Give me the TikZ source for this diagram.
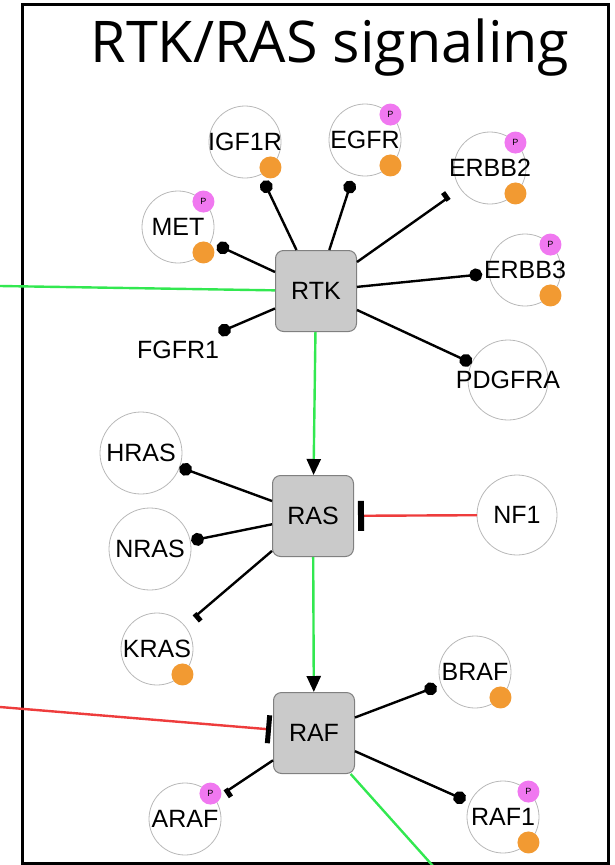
\documentclass[tikz,border=0pt]{standalone}
\usepackage{fontspec}
\setmainfont{Liberation Sans}
\newfontfamily\titlefont{Open Sans}
\usetikzlibrary{arrows.meta,positioning}
\definecolor{actgreen}{RGB}{50,232,80}
\definecolor{inhred}{RGB}{238,60,60}
\definecolor{boxgray}{RGB}{202,202,202}
\definecolor{phospho}{RGB}{240,120,240}
\definecolor{mutorange}{RGB}{242,154,50}
\tikzset{
  hub/.style={draw=black!50, fill=boxgray, rounded corners=8pt, minimum size=81pt, inner sep=0pt, line width=1pt, font=\fontsize{25}{28}\selectfont},
  gene/.style={circle, draw=black!28, line width=0.8pt, minimum size=72pt, inner sep=0pt, outer sep=0pt},
  genetext/.style={font=\fontsize{25}{28}\selectfont, inner sep=0pt},
  pdot/.style={circle, fill=phospho, minimum size=22pt, inner sep=0pt, font=\fontsize{9}{9}\selectfont},
  odot/.style={circle, fill=mutorange, minimum size=22pt, inner sep=0pt},
  link/.style={line width=2.4pt},
  bind/.style={link, -{Circle[length=13pt]}},
  tee/.style={link, -{Bar[width=14pt, line width=5pt, left]}},
  act/.style={line width=2.4pt, color=actgreen},
  inh/.style={line width=2.4pt, color=inhred},
}

\begin{document}
\begin{tikzpicture}[x=1pt, y=-1pt]
  \useasboundingbox (0,0) rectangle (615,865);
  %%%%% FRAME %%%%%
  \draw[line width=3pt] (22,4) rectangle (608,863);
  \node[anchor=base, inner sep=0pt, font=\titlefont\fontsize{57.5}{60}\selectfont] (title) at (330,62) {RTK/RAS signaling};

  %%%%% HUBS %%%%%
  \node[hub] (rtk) at (316,291) {RTK};
  \node[hub] (ras) at (313,516) {RAS};
  \node[hub] (raf) at (314,733) {RAF};

  %%%%% GENES %%%%%
  \node[gene, label={[genetext]center:IGF1R}] (igf1r) at (245,142) {};
  \node[gene, label={[genetext]center:EGFR}] (egfr) at (365,140) {};
  \node[gene, label={[genetext]center:ERBB2}] (erbb2) at (490,168) {};
  \node[gene, label={[genetext]center:ERBB3}] (erbb3) at (525,270) {};
  \node[gene, minimum size=80pt, label={[genetext]center:PDGFRA}] (pdgfra) at (508,380) {};
  \node[gene, label={[genetext]center:MET}] (met) at (178,227) {};
  \node[gene, draw=none, label={[genetext]center:FGFR1}] (fgfr1) at (178,350) {};

  \node[gene, minimum size=82pt, label={[genetext]center:HRAS}] (hras) at (141,453) {};
  \node[gene, minimum size=82pt, label={[genetext]center:NRAS}] (nras) at (150,549) {};
  \node[gene, label={[genetext]center:KRAS}] (kras) at (157,649) {};
  \node[gene, minimum size=80pt, label={[genetext]center:NF1}] (nf1) at (517,515) {};

  \node[gene, label={[genetext]center:BRAF}] (braf) at (475,672) {};
  \node[gene, label={[genetext]center:ARAF}] (araf) at (185,819) {};
  \node[gene, label={[genetext]center:RAF1}] (raf1) at (503,817) {};

  %%%%% MARKS %%%%%
  \node[pdot] (egfr-p) at (egfr.45) {P};
  \node[pdot] (erbb2-p) at (erbb2.45) {P};
  \node[pdot] (erbb3-p) at (erbb3.45) {P};
  \node[pdot] (met-p) at (met.45) {P};
  \node[pdot] (araf-p) at (araf.45) {P};
  \node[pdot] (raf1-p) at (raf1.45) {P};

  \node[odot] (igf1r-o) at (igf1r.-45) {};
  \node[odot] (egfr-o) at (egfr.-45) {};
  \node[odot] (erbb2-o) at (erbb2.-45) {};
  \node[odot] (erbb3-o) at (erbb3.-45) {};
  \node[odot] (met-o) at (met.-45) {};
  \node[odot] (kras-o) at (kras.-45) {};
  \node[odot] (braf-o) at (braf.-45) {};
  \node[odot] (raf1-o) at (raf1.-45) {};

  %%%%% LINKS %%%%%
  \draw[bind, shorten >=7pt] (rtk) -- (igf1r);
  \draw[bind, shorten >=7pt] (rtk) -- (egfr);
  \draw[tee, shorten >=14pt] (rtk) -- (erbb2);
  \draw[bind, shorten >=7pt] (rtk) -- (erbb3);
  \draw[bind, shorten >=0pt] (rtk) -- (pdgfra);
  \draw[bind, shorten >=7pt] (rtk) -- (met);
  \draw[bind, shorten >=8pt] (rtk) -- (fgfr1);

  \draw[bind, shorten >=0pt] (ras) -- (hras);
  \draw[bind, shorten >=1pt] (ras) -- (nras);
  \draw[tee, shorten >=13pt] (ras) -- (kras);

  \draw[bind, shorten >=5pt] (raf) -- (braf);
  \draw[bind, shorten >=5pt] (raf) -- (raf1);
  \draw[tee, shorten >=12pt] (raf) -- (araf);

  %%%%% SIGNAL FLOW %%%%%
  \coordinate (westrtk) at (0,286);
  \coordinate (westraf) at (0,707);
  \coordinate (southraf) at (450,885);
  \draw[act] (westrtk) -- (rtk);
  \draw[act, -{Triangle[width=14pt, length=16pt, color=black]}] (rtk) -- (ras);
  \draw[act, -{Triangle[width=14pt, length=16pt, color=black]}] (ras) -- (raf);
  \draw[act] (raf) -- (southraf);
  \draw[inh, -{Bar[width=30pt, line width=6pt, color=black]}, shorten >=4pt] (nf1) -- (ras);
  \draw[inh, -{Bar[width=28pt, line width=5pt, color=black]}, shorten >=2pt] (westraf) -- (raf);
\end{tikzpicture}
\end{document}
